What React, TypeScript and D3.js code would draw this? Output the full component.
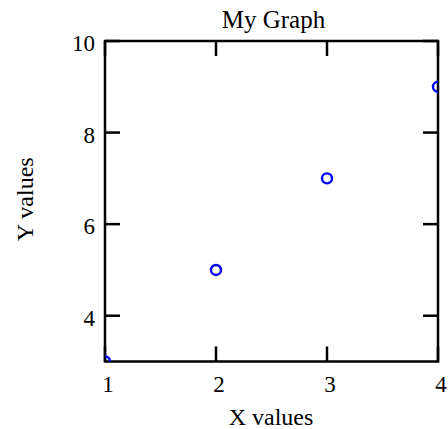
import React from "react";
import * as d3 from "d3";

const xValues = [1, 2, 3, 4];
const yValues = [3, 5, 7, 9];
const xTicks = [1, 2, 3, 4];
const yTicks = [4, 6, 8, 10];
const title = "My Graph";
const xLabel = "X values";
const yLabel = "Y values";

const W = 448;
const H = 429;
const M = { left: 105, right: 438, top: 41, bottom: 361.5 };
const FONT = "'Liberation Serif', 'Times New Roman', serif";

export default function App() {
  const x = d3.scaleLinear().domain([1, 4]).range([M.left, M.right]);
  const y = d3.scaleLinear().domain([3, 10]).range([M.bottom, M.top]);
  const tickLen = 15;
  const pw = M.right - M.left;
  const ph = M.bottom - M.top;
  return (
    <svg
      width={W}
      height={H}
      style={{ position: "absolute", left: 0, top: 0, background: "#fff" }}
    >
      <defs>
        <clipPath id="plotclip">
          <rect x={M.left} y={M.top} width={pw} height={ph} />
        </clipPath>
      </defs>
      <rect x={0} y={0} width={W} height={H} fill="#fff" />
      <g stroke="#000" strokeWidth={2.5}>
        {xTicks.map((t) => (
          <g key={"xt" + t}>
            <line x1={x(t)} x2={x(t)} y1={M.bottom} y2={M.bottom - tickLen} />
            <line x1={x(t)} x2={x(t)} y1={M.top} y2={M.top + tickLen} />
          </g>
        ))}
        {yTicks.map((t) => (
          <g key={"yt" + t}>
            <line x1={M.left} x2={M.left + tickLen} y1={y(t)} y2={y(t)} />
            <line x1={M.right} x2={M.right - tickLen} y1={y(t)} y2={y(t)} />
          </g>
        ))}
      </g>
      <rect
        x={M.left}
        y={M.top}
        width={pw}
        height={ph}
        fill="none"
        stroke="#000"
        strokeWidth={2.5}
      />
      <g clipPath="url(#plotclip)">
        {xValues.map((v, i) => (
          <circle
            key={"p" + i}
            cx={x(v)}
            cy={y(yValues[i])}
            r={5}
            fill="none"
            stroke="#0000ff"
            strokeWidth={2.4}
          />
        ))}
      </g>
      <g fontFamily={FONT} fontSize={23} fill="#000">
        {xTicks.map((t) => (
          <text key={"xl" + t} x={x(t) + 3} y={392} textAnchor="middle">
            {t}
          </text>
        ))}
        {yTicks.map((t) => (
          <text key={"yl" + t} x={95} y={y(t) + 10} textAnchor="end">
            {t}
          </text>
        ))}
      </g>
      <text
        x={273.5}
        y={28}
        textAnchor="middle"
        fontFamily={FONT}
        fontSize={25}
        fill="#000"
      >
        {title}
      </text>
      <text
        x={271}
        y={425}
        textAnchor="middle"
        fontFamily={FONT}
        fontSize={24}
        fill="#000"
      >
        {xLabel}
      </text>
      <text
        transform={`translate(33,${(M.top + M.bottom) / 2 - 2}) rotate(-90)`}
        textAnchor="middle"
        fontFamily={FONT}
        fontSize={24}
        fill="#000"
      >
        {yLabel}
      </text>
    </svg>
  );
}
